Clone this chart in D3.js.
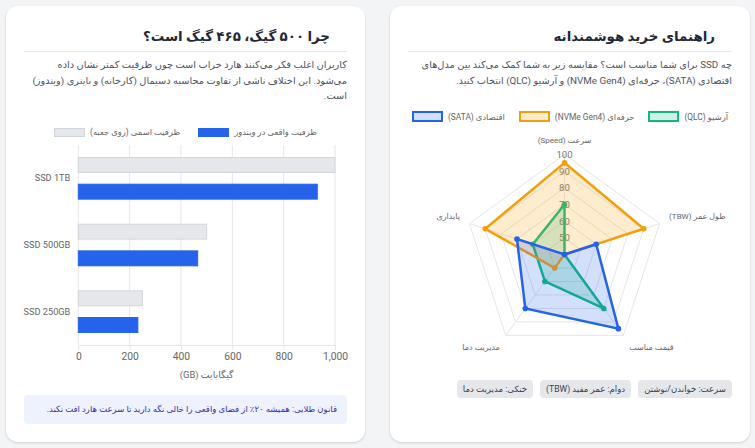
<!DOCTYPE html>
<html lang="fa">
<head>
<meta charset="utf-8">
<script src="https://cdn.jsdelivr.net/npm/d3@7"></script>
<style>
  body { margin: 0; width: 755px; height: 448px; overflow: hidden; background: #f3f4f6;
         font-family: Roboto, "DejaVu Sans", sans-serif; position: relative; }
  .card { position: absolute; top: 6px; height: 436px; background: #fff; border-radius: 12px;
          box-shadow: 0 1px 3px rgba(0,0,0,.10), 0 1px 2px rgba(0,0,0,.06); }
  .title { position: absolute; right: 35px; top: 23px; font-size: 13.4px; font-weight: bold;
           color: #1f2937; direction: rtl; white-space: nowrap; }
  .rule { position: absolute; left: 18px; right: 18px; top: 45px; border-top: 1px solid #e5e7eb; }
  .para { position: absolute; right: 18px; top: 51px; font-size: 9.8px; line-height: 15.7px;
          color: #4b5563; direction: rtl; text-align: right; white-space: nowrap; }
  .legend { position: absolute; left: 0; right: 0; display: flex; justify-content: center;
            align-items: center; font-size: 8.4px; color: #666; }
  .legend .box { display: inline-block; box-sizing: border-box; }
  .legend span.t { direction: rtl; white-space: nowrap; }
  .tags { position: absolute; right: 18px; top: 374px; display: flex; flex-direction: row-reverse; gap: 7px; }
  .tag { height: 18px; line-height: 18px; padding: 0 6px; font-size: 8.6px; background: #e5e7eb;
         color: #374151; border-radius: 4px; direction: rtl; white-space: nowrap; }
  .note { position: absolute; left: 18px; right: 18px; top: 389px; height: 29px; line-height: 29px;
          background: #eef2ff; color: #3730a3; font-size: 8.5px; border-radius: 4px;
          direction: rtl; padding-right: 10px; white-space: nowrap; box-sizing: border-box; }
  #chart { position: absolute; left: 0; top: 0; }
</style>
</head>
<body>
<div class="card" style="left:390px;width:360px">
  <div class="title">راهنمای خرید هوشمندانه</div>
  <div class="rule"></div>
  <div class="para">چه SSD برای شما مناسب است؟ مقایسه زیر به شما کمک می‌کند بین مدل‌های<br>اقتصادی (SATA)، حرفه‌ای (NVMe Gen4) و آرشیو (QLC) انتخاب کنید.</div>
  <div class="legend" id="radarLegend" style="top:105px"></div>
  <div class="tags" id="tags"></div>
</div>
<div class="card" style="left:6px;width:359px">
  <div class="title">چرا ۵۰۰ گیگ، ۴۶۵ گیگ است؟</div>
  <div class="rule"></div>
  <div class="para">کاربران اغلب فکر می‌کنند هارد خراب است چون ظرفیت کمتر نشان داده<br>می‌شود. این اختلاف ناشی از تفاوت محاسبه دسیمال (کارخانه) و باینری (ویندوز)<br>است.</div>
  <div class="legend" id="barLegend" style="top:121px"></div>
  <div class="note">قانون طلایی: همیشه ۲۰٪ از فضای واقعی را خالی نگه دارید تا سرعت هارد افت نکند.</div>
</div>
<svg id="chart" width="755" height="448"></svg>
<script>
// bar chart data (GB)
const capacityLabels = ['SSD 1TB', 'SSD 500GB', 'SSD 250GB'];
const nominalGB = [1000, 500, 250];
const actualGB = [931, 465, 232];
const capacityTicks = [0, 200, 400, 600, 800, 1000];
const barSeries = ['ظرفیت اسمی (روی جعبه)', 'ظرفیت واقعی در ویندوز'];

// radar data
const radarAxes = ['سرعت (Speed)', 'طول عمر (TBW)', 'قیمت مناسب', 'مدیریت دما', 'پایداری'];
const sataScores = [40, 60, 95, 80, 70];
const nvmeScores = [95, 90, 40, 50, 90];
const qlcScores = [70, 40, 80, 60, 60];
const radarTicks = [50, 60, 70, 80, 90, 100];
const radarSeries = ['اقتصادی (SATA)', 'حرفه‌ای (NVMe Gen4)', 'آرشیو (QLC)'];

const tagTexts = ['سرعت: خواندن/نوشتن', 'دوام: عمر مفید (TBW)', 'خنکی: مدیریت دما'];

const svg = d3.select('#chart');
const gridColor = '#e6e6e6';
const tickColor = '#666';

// ---------- horizontal bar chart ----------
const x = d3.scaleLinear().domain([0, 1000]).range([78.3, 335]);
const y = d3.scaleBand().domain(capacityLabels).range([145, 345]);
const ySub = d3.scaleBand().domain([0, 1]).range([0, y.bandwidth() * 0.8]);
const barH = ySub.bandwidth() * 0.56;

const barG = svg.append('g');
barG.selectAll('.grid').data(capacityTicks).enter().append('line')
    .attr('x1', d => x(d)).attr('x2', d => x(d))
    .attr('y1', 145).attr('y2', 345)
    .attr('stroke', gridColor);

const xAxis = d3.axisBottom(x).tickValues(capacityTicks).tickFormat(d3.format(','))
    .tickSize(5).tickSizeOuter(0).tickPadding(3);
const xg = barG.append('g').attr('transform', 'translate(0,345)').call(xAxis);
xg.select('.domain').attr('stroke', gridColor);
xg.selectAll('line').attr('stroke', gridColor);
xg.selectAll('text').attr('fill', tickColor).style('font-size', '10.3px').style('font-family', 'Roboto');

const yg = barG.append('g').attr('transform', 'translate(78.3,0)')
    .call(d3.axisLeft(y).tickSize(0).tickPadding(8));
yg.select('.domain').remove();
yg.selectAll('text').attr('fill', tickColor).style('font-size', '9.2px').style('font-family', 'Roboto');

barG.append('text').attr('x', (x(0) + x(1000)) / 2).attr('y', 374)
    .attr('text-anchor', 'middle').attr('dominant-baseline', 'central')
    .attr('direction', 'rtl')
    .attr('fill', tickColor).style('font-size', '9.4px')
    .text('گیگابایت (GB)');

const barStyles = [
    { fill: '#e5e7eb', stroke: '#d1d5db' },
    { fill: '#2563eb', stroke: '#2563eb' }
];
[nominalGB, actualGB].forEach(function (vals, s) {
    barG.selectAll('.bar' + s).data(vals).enter().append('rect')
        .attr('x', x(0))
        .attr('y', (d, i) => y(capacityLabels[i]) + y.bandwidth() * 0.1 + ySub(s) + (ySub.bandwidth() - barH) / 2)
        .attr('width', d => x(d) - x(0))
        .attr('height', barH)
        .attr('fill', barStyles[s].fill)
        .attr('stroke', barStyles[s].stroke)
        .attr('stroke-width', 1);
});

// bar legend (visual order: nominal, actual)
const barLegend = d3.select('#barLegend');
barSeries.forEach(function (name, s) {
    const item = barLegend.append('div').style('display', 'flex').style('align-items', 'center')
        .style('margin', '0 9px');
    item.append('span').attr('class', 'box')
        .style('width', '31px').style('height', '9px')
        .style('background', barStyles[s].fill)
        .style('border', '1px solid ' + barStyles[s].stroke)
        .style('margin-right', '5px');
    item.append('span').attr('class', 't').text(name);
});

// ---------- radar chart ----------
const cx = 564.5, cy = 254.5;
const r = d3.scaleLinear().domain([40, 100]).range([0, 100]);
const n = radarAxes.length;
const ang = i => i * 2 * Math.PI / n;
const px = (i, rad) => Math.sin(ang(i)) * rad;
const py = (i, rad) => -Math.cos(ang(i)) * rad;

const radarG = svg.append('g').attr('transform', 'translate(' + cx + ',' + cy + ')');

radarG.selectAll('.ring').data(radarTicks).enter().append('polygon')
    .attr('points', t => d3.range(n).map(i => px(i, r(t)) + ',' + py(i, r(t))).join(' '))
    .attr('fill', 'none').attr('stroke', gridColor);
radarG.selectAll('.spoke').data(d3.range(n)).enter().append('line')
    .attr('x1', 0).attr('y1', 0)
    .attr('x2', i => px(i, r(100))).attr('y2', i => py(i, r(100)))
    .attr('stroke', gridColor);

radarG.selectAll('.rtick').data(radarTicks).enter().append('text')
    .attr('x', 0).attr('y', t => -r(t))
    .attr('text-anchor', 'middle').attr('dominant-baseline', 'central')
    .attr('fill', '#777').style('font-size', '9.6px').style('font-family', 'Roboto')
    .text(t => t);

radarG.selectAll('.alabel').data(radarAxes).enter().append('text')
    .attr('direction', 'rtl')
    .attr('x', (d, i) => px(i, 110))
    .attr('y', (d, i) => py(i, 110) + (Math.cos(ang(i)) > 0 ? -3.7 : 4.5))
    .attr('text-anchor', (d, i) => {
        const s = Math.sin(ang(i));
        if (Math.abs(s) < 0.01) return 'middle';
        return s > 0 ? 'end' : 'start';
    })
    .attr('dominant-baseline', 'central')
    .attr('fill', tickColor).style('font-size', '8px')
    .text(d => d);

const radarStyles = [
    { line: '#2563eb', fill: 'rgba(37,99,235,0.2)' },
    { line: '#f59e0b', fill: 'rgba(245,158,11,0.2)' },
    { line: '#10b981', fill: 'rgba(16,185,129,0.2)' }
];
const radarData = [sataScores, nvmeScores, qlcScores];
const radial = d3.lineRadial().angle((d, i) => ang(i)).radius(d => r(d)).curve(d3.curveLinearClosed);

// last dataset drawn first, first one on top
[2, 1, 0].forEach(function (k) {
    const g = radarG.append('g');
    g.append('path').attr('d', radial(radarData[k]))
        .attr('fill', radarStyles[k].fill)
        .attr('stroke', radarStyles[k].line)
        .attr('stroke-width', 2.5)
        .attr('stroke-linejoin', 'miter');
    g.selectAll('circle').data(radarData[k]).enter().append('circle')
        .attr('cx', (d, i) => px(i, r(d))).attr('cy', (d, i) => py(i, r(d)))
        .attr('r', 2.8).attr('fill', radarStyles[k].line);
});

const radarLegend = d3.select('#radarLegend');
radarSeries.forEach(function (name, k) {
    const item = radarLegend.append('div').style('display', 'flex').style('align-items', 'center')
        .style('margin', '0 7px');
    item.append('span').attr('class', 'box')
        .style('width', '31px').style('height', '11px')
        .style('background', radarStyles[k].fill)
        .style('border', '2.5px solid ' + radarStyles[k].line)
        .style('margin-right', '5px');
    item.append('span').attr('class', 't').text(name);
});

d3.select('#tags').selectAll('.tag').data(tagTexts).enter().append('div')
    .attr('class', 'tag').text(d => d);
</script>
</body>
</html>
